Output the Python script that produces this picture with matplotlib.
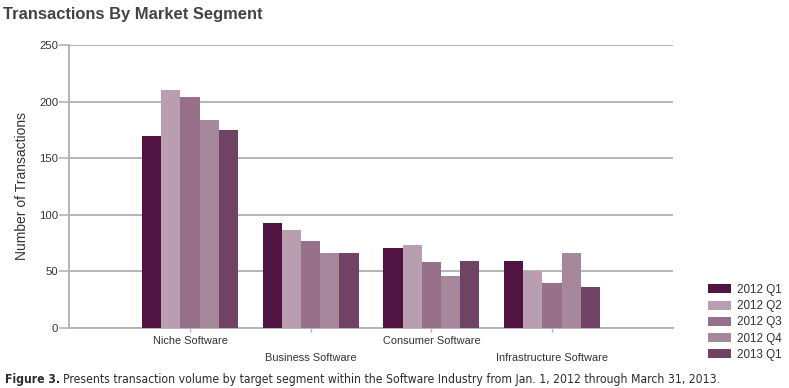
import matplotlib
matplotlib.use("Agg")
import matplotlib.pyplot as plt
import numpy as np

categories = ["Niche Software", "Business Software", "Consumer Software", "Infrastructure Software"]
series_names = ["2012 Q1", "2012 Q2", "2012 Q3", "2012 Q4", "2013 Q1"]
q1_2012 = [170, 93, 71, 59]
q2_2012 = [210, 87, 73, 50]
q3_2012 = [204, 77, 58, 40]
q4_2012 = [184, 66, 46, 66]
q1_2013 = [175, 66, 59, 36]
colors = ["#511341", "#b99eb1", "#967189", "#a7879c", "#704264"]
yticks = [0, 50, 100, 150, 200, 250]

plt.rcParams['font.family'] = ['Liberation Sans', 'DejaVu Sans']

fig = plt.figure(figsize=(7.89, 3.88), dpi=100)
ax = fig.add_axes([69.3/789, 1-328/388, (672.7-69.3)/789, (328-45)/388])

series = [q1_2012, q2_2012, q3_2012, q4_2012, q1_2013]
x = np.arange(len(categories))
group_w = 0.795
bw = group_w / len(series)
for i, (vals, name, c) in enumerate(zip(series, series_names, colors)):
    ax.bar(x - group_w/2 + bw*(i+0.5), vals, width=bw, color=c, label=name, zorder=3, linewidth=0)

ax.set_xlim(-1, 4)
ax.set_ylim(0, 250)
ax.set_yticks(yticks)
ax.set_yticklabels([str(v) for v in yticks])
ax.grid(axis='y', color='#b4b4b4', linewidth=1.4, zorder=0)
ax.set_axisbelow(True)
for s in ['top', 'right']:
    ax.spines[s].set_visible(False)
ax.spines['left'].set_color('#b4b4b4')
ax.spines['left'].set_linewidth(1.4)
ax.spines['bottom'].set_color('#b4b4b4')
ax.spines['bottom'].set_linewidth(1.4)
ax.tick_params(axis='y', colors='#b4b4b4', labelcolor='#333333', labelsize=8.2, length=7, width=1.2, pad=1)
ax.tick_params(axis='x', colors='#b4b4b4', labelcolor='#333333', labelsize=7.9, length=3, width=1.0, pad=2.5)
ax.set_xticks(x)
ax.set_xticklabels(categories)
for i, t in enumerate(ax.xaxis.get_major_ticks()):
    if i % 2 == 1:
        t.set_pad(15)

ax.set_ylabel("Number of Transactions", fontsize=10, color='#333333', labelpad=7)

leg = fig.legend(loc='upper left', bbox_to_anchor=(708/789, 1-284/388), frameon=False,
                 fontsize=8.4, handlelength=2.0, handleheight=0.8, handletextpad=0.45,
                 labelspacing=0.36, borderpad=0, borderaxespad=0)
for t in leg.get_texts():
    t.set_color('#333333')

fig.text(3/789, 1-15/388, "Transactions By Market Segment", fontsize=11.9, fontweight='bold',
         color='#444444', va='center', ha='left')

fig.canvas.draw()
r = fig.canvas.get_renderer()
t1 = fig.text(5/789, 1-380/388, "Figure 3.", fontsize=8.75, fontweight='bold', color='#2e2a2d',
              va='center', ha='left', family='DejaVu Sans', stretch='condensed')
bb = t1.get_window_extent(r)
fig.text((bb.x1 + 3)/789, 1-380/388,
         "Presents transaction volume by target segment within the Software Industry from Jan. 1, 2012 through March 31, 2013.",
         fontsize=8.75, color='#2e2a2d', va='center', ha='left', family='DejaVu Sans', stretch='condensed')

fig.savefig("out.png", dpi=100)
